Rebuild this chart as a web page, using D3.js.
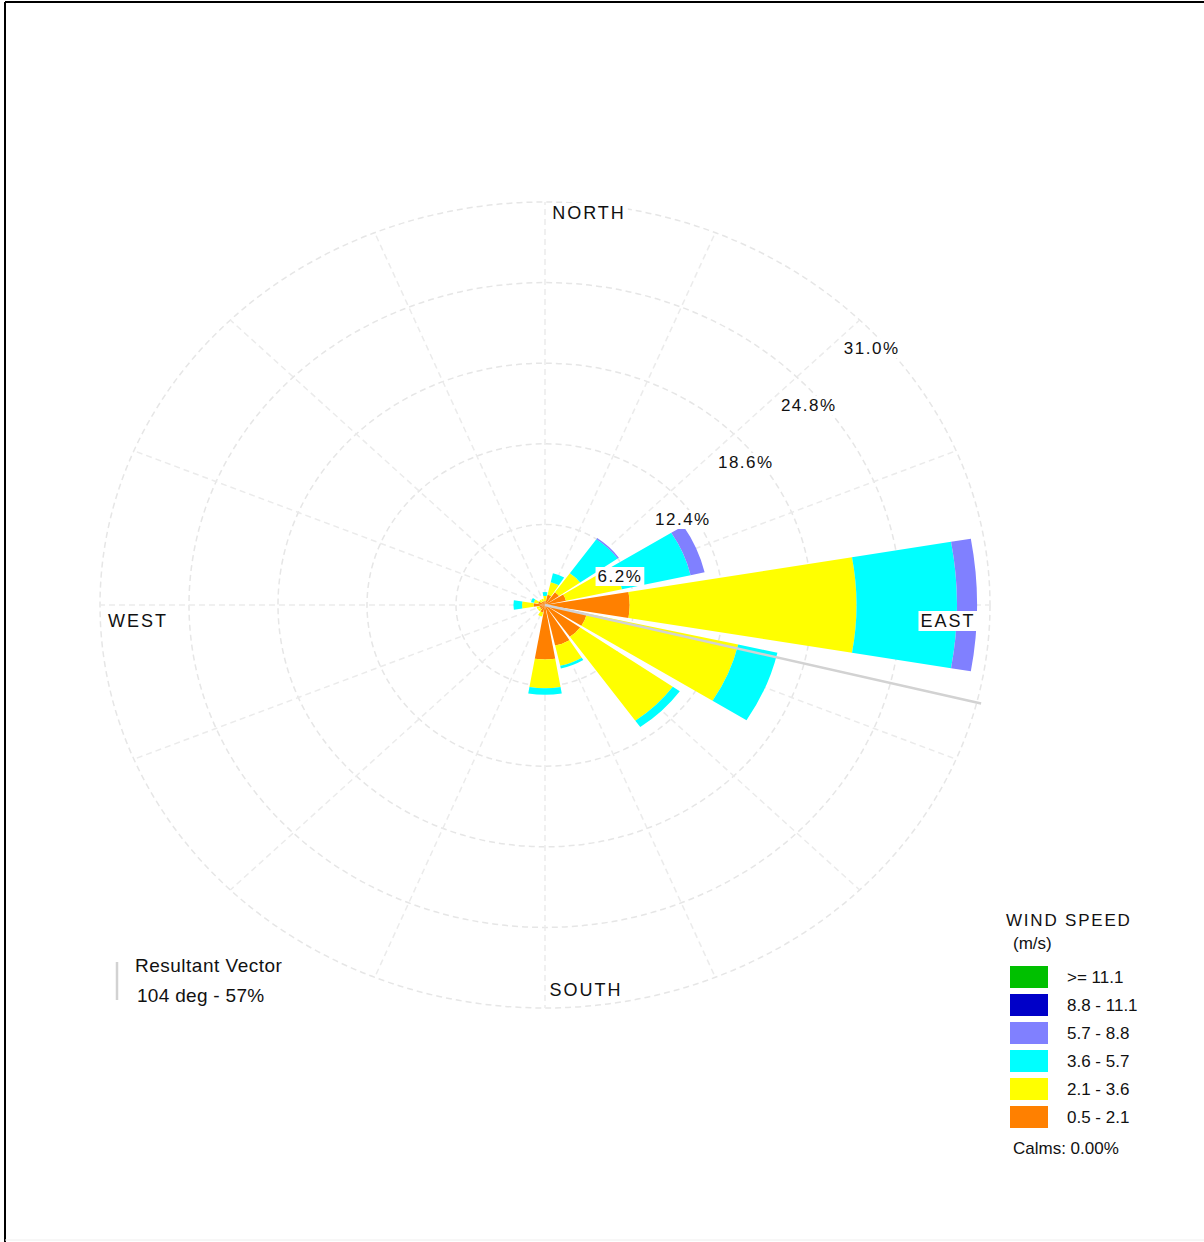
<!DOCTYPE html>
<html>
<head>
<meta charset="utf-8">
<script src="https://cdn.jsdelivr.net/npm/d3@7"></script>
<style>
  html, body { margin: 0; padding: 0; background: #fff; }
  svg { display: block; }
  text { font-family: "Liberation Sans", Arial, sans-serif; fill: #111; }
</style>
</head>
<body>
<svg id="chart" width="1204" height="1242"></svg>
<script>
// ---------- data ----------
const directions = ["N","NNE","NE","ENE","E","ESE","SE","SSE","S","SSW","SW","WSW","W","WNW","NW","NNW"];
const classLabels = [">= 11.1", "8.8 - 11.1", "5.7 - 8.8", "3.6 - 5.7", "2.1 - 3.6", "0.5 - 2.1"];
const classColors = ["#00C000", "#0000C8", "#8080FF", "#00FFFF", "#FFFF00", "#FF8000"];
// frequency (%) per direction for each speed class
const spd_05_21  = [0.3, 0.8, 1.2, 1.5, 5.9, 3.0, 3.0, 3.2, 4.2, 0.6, 0.4, 0.4, 0.8, 0.5, 0.3, 0.3];
const spd_21_36  = [0.4, 1.0, 1.8, 4.0, 15.8, 10.8, 7.9, 1.6, 2.2, 0.3, 0.2, 0.2, 0.8, 0.3, 0.2, 0.2];
const spd_36_57  = [0.3, 0.7, 3.2, 4.9, 7.0, 2.8, 0.6, 0.2, 0.5, 0.0, 0.0, 0.0, 0.6, 0.2, 0.0, 0.0];
const spd_57_88  = [0.0, 0.0, 0.1, 1.0, 1.4, 0.0, 0.0, 0.0, 0.0, 0.0, 0.0, 0.0, 0.0, 0.0, 0.0, 0.0];
const spd_88_111 = [0, 0, 0, 0, 0, 0, 0, 0, 0, 0, 0, 0, 0, 0, 0, 0];
const spd_111    = [0, 0, 0, 0, 0, 0, 0, 0, 0, 0, 0, 0, 0, 0, 0, 0];
const ringTicks = [6.2, 12.4, 18.6, 24.8, 31.0];
const maxPct = 31.0;
const resultantDeg = 104;
const resultantText = ["Resultant Vector", "104 deg - 57%"];
const legendTitle = ["WIND SPEED", "(m/s)"];
const calmsText = "Calms: 0.00%";
const compassLabels = ["NORTH", "EAST", "SOUTH", "WEST"];

// ---------- layout ----------
const cx = 545, cy = 605, R = 445, yScale = 403 / 445;
const svg = d3.select("#chart");

// frame (top + left lines)
svg.append("line").attr("x1", 5).attr("y1", 2).attr("x2", 1204).attr("y2", 2).attr("stroke", "#000").attr("stroke-width", 2);
svg.append("line").attr("x1", 5).attr("y1", 2).attr("x2", 5).attr("y2", 1242).attr("stroke", "#000").attr("stroke-width", 2);
svg.append("line").attr("x1", 5).attr("y1", 1240).attr("x2", 1204).attr("y2", 1240).attr("stroke", "#eee").attr("stroke-width", 1);

const r = d3.scaleLinear().domain([0, maxPct]).range([0, R]);
const ang = d3.scaleLinear().domain([0, directions.length]).range([0, 2 * Math.PI]);

const rose = svg.append("g").attr("transform", `translate(${cx},${cy}) scale(1,${yScale})`);

// grid rings
rose.selectAll("circle.ring").data(ringTicks).join("circle")
  .attr("class", "ring").attr("r", d => r(d))
  .attr("fill", "none").attr("stroke", "#e6e6e6").attr("stroke-width", 1.5)
  .attr("stroke-dasharray", "6,4").attr("vector-effect", "non-scaling-stroke");

// spokes
rose.selectAll("line.spoke").data(directions).join("line")
  .attr("class", "spoke")
  .attr("x1", 0).attr("y1", 0)
  .attr("x2", (d, i) => r(maxPct) * Math.sin(ang(i)))
  .attr("y2", (d, i) => -r(maxPct) * Math.cos(ang(i)))
  .attr("stroke", "#ebebeb").attr("stroke-width", 1.5)
  .attr("stroke-dasharray", "6,4").attr("vector-effect", "non-scaling-stroke");

// stacked bars (inner to outer: 0.5-2.1, 2.1-3.6, ...)
const stackOrder = [spd_05_21, spd_21_36, spd_36_57, spd_57_88, spd_88_111, spd_111];
const stackColors = ["#FF8000", "#FFFF00", "#00FFFF", "#8080FF", "#0000C8", "#00C000"];
const halfW = (19.5 / 2) * Math.PI / 180;
const arc = d3.arc();
const segs = [];
directions.forEach((dname, i) => {
  let acc = 0;
  stackOrder.forEach((arr, k) => {
    const v = arr[i];
    if (v > 0) {
      segs.push({ i, k, inner: acc, outer: acc + v });
      acc += v;
    }
  });
});
rose.selectAll("path.seg").data(segs).join("path")
  .attr("class", "seg")
  .attr("d", d => arc({
    innerRadius: r(d.inner), outerRadius: r(d.outer),
    startAngle: ang(d.i) - halfW, endAngle: ang(d.i) + halfW
  }))
  .attr("fill", d => stackColors[d.k])
  .attr("stroke", "none");

// resultant vector line
const rv = resultantDeg * Math.PI / 180;
rose.append("line")
  .attr("x1", 0).attr("y1", 0)
  .attr("x2", r(maxPct) * 1.01 * Math.sin(rv)).attr("y2", -r(maxPct) * 1.01 * Math.cos(rv))
  .attr("stroke", "#d2d2d2").attr("stroke-width", 2.5).attr("vector-effect", "non-scaling-stroke");

// ring labels
const diag = Math.PI / 4;
const ringLab = svg.append("g");
ringTicks.forEach(t => {
  const x = cx + r(t) * Math.sin(diag) + 12;
  const y = cy - r(t) * Math.cos(diag) * yScale + 28;
  const label = t.toFixed(1) + "%";
  const tx = ringLab.append("text").attr("x", x).attr("y", y + 6)
    .attr("text-anchor", "middle").attr("font-size", 17).attr("letter-spacing", 1.5).text(label);
  const bb = tx.node().getBBox();
  ringLab.insert("rect", "text").attr("x", bb.x - 2).attr("y", bb.y).attr("width", bb.width + 4).attr("height", bb.height).attr("fill", "#fff");
});

// compass labels
const compassPos = [
  { t: compassLabels[0], x: cx + 44, y: cy - 392 },
  { t: compassLabels[1], x: cx + 403, y: cy + 16 },
  { t: compassLabels[2], x: cx + 41, y: cy + 385 },
  { t: compassLabels[3], x: cx - 407, y: cy + 16 }
];
const comp = svg.append("g");
compassPos.forEach(p => {
  const tx = comp.append("text").attr("x", p.x).attr("y", p.y + 6)
    .attr("text-anchor", "middle").attr("font-size", 18).attr("letter-spacing", 2).text(p.t);
  const bb = tx.node().getBBox();
  comp.insert("rect", "text").attr("x", bb.x - 2).attr("y", bb.y).attr("width", bb.width + 4).attr("height", bb.height).attr("fill", "#fff");
});

// resultant vector legend
svg.append("line").attr("x1", 117).attr("y1", 962).attr("x2", 117).attr("y2", 1000)
  .attr("stroke", "#d2d2d2").attr("stroke-width", 2.5);
svg.append("text").attr("x", 135).attr("y", 972).attr("font-size", 19).attr("letter-spacing", 0.5).text(resultantText[0]);
svg.append("text").attr("x", 137).attr("y", 1002).attr("font-size", 19).attr("letter-spacing", 0.3).text(resultantText[1]);

// speed legend
const lg = svg.append("g");
lg.append("text").attr("x", 1006).attr("y", 926).attr("font-size", 17).attr("letter-spacing", 1.8).text(legendTitle[0]);
lg.append("text").attr("x", 1013).attr("y", 949).attr("font-size", 17).text(legendTitle[1]);
const ly = d3.scaleLinear().domain([0, 1]).range([966, 994]);
lg.selectAll("rect.sw").data(classLabels).join("rect")
  .attr("class", "sw").attr("x", 1010).attr("y", (d, i) => ly(i))
  .attr("width", 38).attr("height", 22)
  .attr("fill", (d, i) => classColors[i]);
lg.selectAll("text.cl").data(classLabels).join("text")
  .attr("class", "cl").attr("x", 1067).attr("y", (d, i) => ly(i) + 17)
  .attr("font-size", 17).text(d => d);
lg.append("text").attr("x", 1013).attr("y", 1154).attr("font-size", 17).text(calmsText);
</script>
</body>
</html>
